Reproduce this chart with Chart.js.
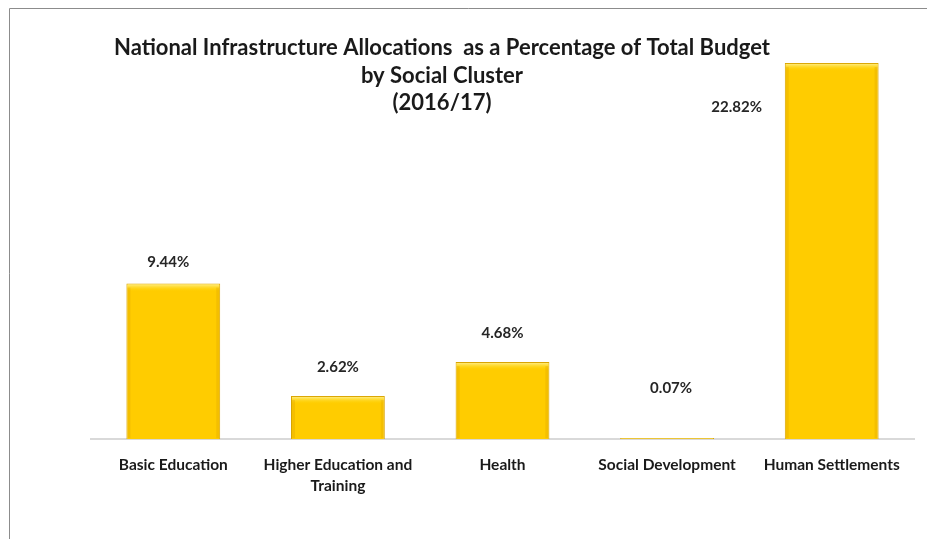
<!DOCTYPE html>
<html>
<head>
<meta charset="utf-8">
<script src="https://cdn.jsdelivr.net/npm/chart.js@4.4.0/dist/chart.umd.min.js"></script>
<style>
  html, body { margin: 0; padding: 0; background: #fff; }
  #wrap { position: relative; width: 927px; height: 539px; }
</style>
</head>
<body>
<div id="wrap"><canvas id="budgetChart"></canvas></div>
<script>
const categories = [
  'Basic Education',
  ['Higher Education and', 'Training'],
  'Health',
  'Social Development',
  'Human Settlements'
]
const percentages = [9.44, 2.62, 4.68, 0.07, 22.82]
const titleLines = [
  'National Infrastructure Allocations  as a Percentage of Total Budget',
  'by Social Cluster',
  '(2016/17)'
]

// where the value labels sit relative to the top of their bar (dx, dy)
const labelShift = [[-5, -21], [0, -29], [0, -29], [4, -50], [-95, 44]]

const fontName = 'Lato, "Open Sans", sans-serif'

const framePlugin = {
  id: 'frame',
  beforeDraw(chart) {
    const ctx = chart.ctx
    ctx.save()
    ctx.strokeStyle = '#8c8c8c'
    ctx.lineWidth = 1
    ctx.beginPath()
    ctx.moveTo(9.5, chart.height)
    ctx.lineTo(9.5, 8.5)
    ctx.lineTo(chart.width, 8.5)
    ctx.stroke()
    ctx.restore()
  },
  afterDatasetsDraw(chart) {
    const ctx = chart.ctx
    const meta = chart.getDatasetMeta(0)
    ctx.save()
    meta.data.forEach((bar, i) => {
      const left = bar.x - bar.width / 2
      const h = bar.base - bar.y
      if (h < 3) return
      // bevel: light top edge, darker sides
      const top = ctx.createLinearGradient(0, bar.y, 0, bar.y + 8)
      top.addColorStop(0, '#fff3a0')
      top.addColorStop(1, 'rgba(255,214,0,0)')
      ctx.fillStyle = top
      ctx.fillRect(left + 1, bar.y + 1, bar.width - 2, Math.min(8, h - 2))
      ctx.fillStyle = 'rgba(210,150,0,0.25)'
      ctx.fillRect(left + 1, bar.y + 4, 3, h - 5)
      ctx.fillRect(left + bar.width - 4, bar.y + 4, 3, h - 5)
    })
    ctx.restore()

    // value labels
    ctx.save()
    ctx.font = 'bold 15px ' + fontName
    ctx.fillStyle = '#262626'
    ctx.textAlign = 'center'
    ctx.textBaseline = 'middle'
    meta.data.forEach((bar, i) => {
      const s = labelShift[i]
      ctx.fillText(percentages[i].toFixed(2) + '%', bar.x + s[0], bar.y + s[1])
    })
    ctx.restore()
  },
  afterDraw(chart) {
    const ctx = chart.ctx
    ctx.save()
    ctx.font = 'bold 22px ' + fontName
    ctx.fillStyle = '#1a1a1a'
    ctx.textAlign = 'center'
    ctx.textBaseline = 'middle'
    titleLines.forEach((line, i) => {
      ctx.fillText(line, 442, 48 + i * 27.5)
    })
    ctx.restore()
  }
}

new Chart(document.getElementById('budgetChart'), {
  type: 'bar',
  data: {
    labels: categories,
    datasets: [{
      data: percentages,
      backgroundColor: '#ffcc00',
      borderColor: '#d9a400',
      borderWidth: 1,
      categoryPercentage: 0.95,
      barPercentage: 0.6
    }]
  },
  options: {
    responsive: true,
    maintainAspectRatio: false,
    animation: false,
    layout: {
      padding: { top: 27, left: 91, right: 13, bottom: 36 }
    },
    plugins: {
      legend: { display: false },
      title: { display: false },
      tooltip: { enabled: false }
    },
    scales: {
      y: {
        display: false,
        min: 0,
        max: 25
      },
      x: {
        grid: { display: false },
        border: { color: '#d9d9d9', width: 2 },
        ticks: {
          padding: 7,
          color: '#1a1a1a',
          font: { family: fontName, size: 15.5, weight: 'bold', lineHeight: 1.35 },
          maxRotation: 0,
          autoSkip: false
        }
      }
    }
  },
  plugins: [framePlugin]
})
</script>
</body>
</html>
